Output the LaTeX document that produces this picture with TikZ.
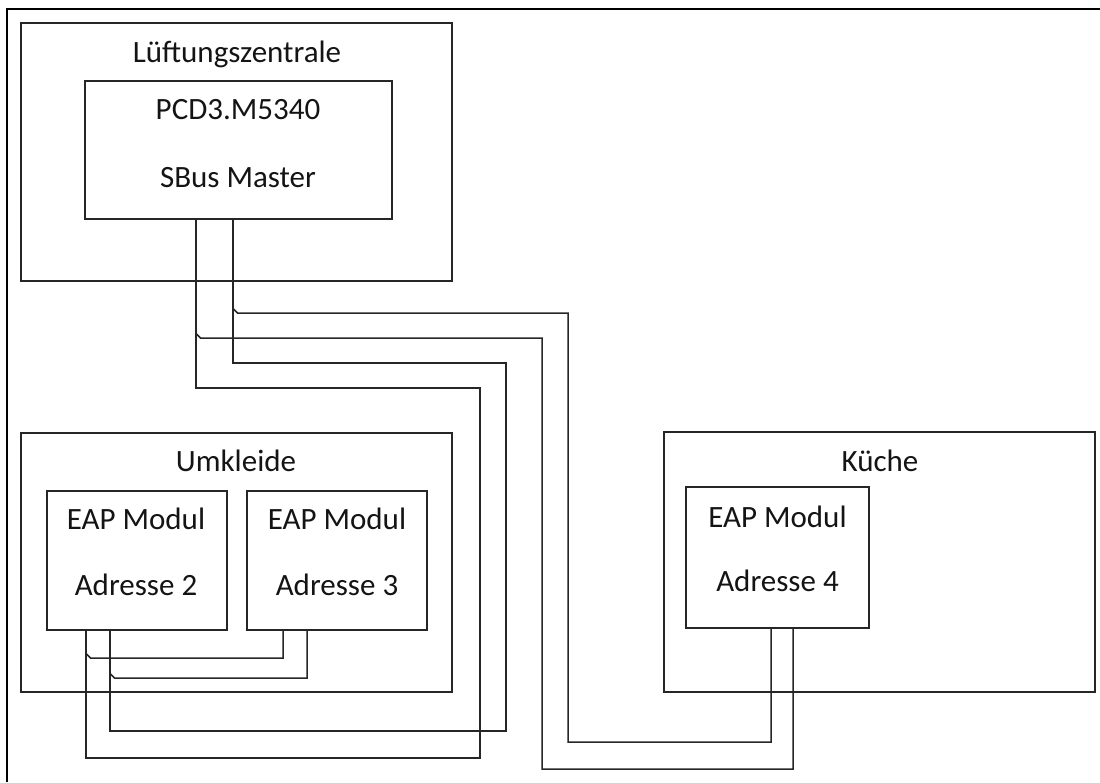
\documentclass[tikz,border=0pt]{standalone}
\usepackage{fontspec}
\setmainfont{Carlito}
\definecolor{linec}{HTML}{262626}
\definecolor{txt}{HTML}{141414}
\begin{document}
\begin{tikzpicture}[x=1pt,y=-1pt,
  box/.style={draw=linec, line width=1.5pt, inner sep=0pt, outer sep=0pt, anchor=north west},
  wire/.style={draw=linec, line width=1.5pt},
  frame/.style={draw=black, line width=2pt},
  lbl/.style={anchor=base, inner sep=0pt, font=\fontsize{31}{37}\selectfont, text=txt}]
\useasboundingbox (0,0) rectangle (1100,782);

% page frame (only top and left edges are visible)
\draw[frame] (7,782) -- (7,9) -- (1100,9);

% rooms and devices
\node[box, minimum width=431pt, minimum height=258pt] (lz) at (21,23) {};
\node[box, minimum width=307pt, minimum height=138pt] (pcd) at (85,81) {};
\node[box, minimum width=431pt, minimum height=259pt] (uk) at (21,433) {};
\node[box, minimum width=180pt, minimum height=139pt] (m2) at (47,491) {};
\node[box, minimum width=180pt, minimum height=139pt] (m3) at (247,491) {};
\node[box, minimum width=431pt, minimum height=260pt] (ku) at (664,432) {};
\node[box, minimum width=183pt, minimum height=141pt] (m4) at (686,487) {};

% labels
\node[lbl] (tlz) at (237,62) {Lüftungszentrale};
\node[lbl] (tpcd1) at (238,119) {PCD3.M5340};
\node[lbl] (tpcd2) at (238,187) {SBus Master};
\node[lbl] (tuk) at (236,471) {Umkleide};
\node[lbl] (tm2a) at (136,529) {EAP Modul};
\node[lbl] (tm2b) at (136,595) {Adresse 2};
\node[lbl] (tm3a) at (337,529) {EAP Modul};
\node[lbl] (tm3b) at (337,595) {Adresse 3};
\node[lbl] (tku) at (880,471) {Küche};
\node[lbl] (tm4a) at (777.5,527) {EAP Modul};
\node[lbl] (tm4b) at (777.5,591) {Adresse 4};

% bus terminals
\coordinate (pa) at (196,219);
\coordinate (pb) at (233,219);
\coordinate (m2a) at (86,630);
\coordinate (m2b) at (110,630);
\coordinate (m3a) at (283,630);
\coordinate (m3b) at (307,630);
\coordinate (m4a) at (771,628);
\coordinate (m4b) at (793,628);

% branch points on the bus lines
\coordinate (ja) at (196,333.5);
\coordinate (jb) at (233,308.5);
\coordinate (jc) at (86,653.5);
\coordinate (jd) at (110,673.5);

% master to Umkleide, module 2
\draw[wire] (pa) |- (480,388) |- (86,758) -- (m2a);
\draw[wire] (pb) |- (506,363) |- (110,731) -- (m2b);

% branches to Küche, module 4
\draw[wire] (ja) -- ++(4.5,4.5) -| (542,769) -| (m4b);
\draw[wire] (jb) -- ++(4.5,4.5) -| (568,742) -| (m4a);

% branches from module 2 to module 3
\draw[wire] (jc) -- ++(4.5,4.5) -| (m3a);
\draw[wire] (jd) -- ++(4.5,4.5) -| (m3b);
\end{tikzpicture}
\end{document}
